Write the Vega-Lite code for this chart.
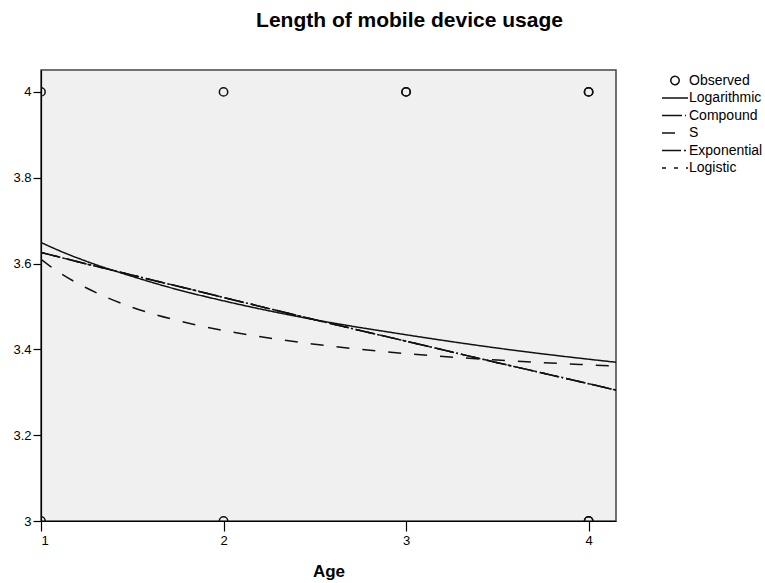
{
  "$schema": "https://vega.github.io/schema/vega-lite/v6.json",
  "width": 575,
  "height": 451,
  "autosize": {"type": "none"},
  "padding": {"left": 41, "top": 70, "right": 149, "bottom": 62},
  "background": "white",
  "title": {
    "text": "Length of mobile device usage",
    "font": "Liberation Sans",
    "fontSize": 21,
    "fontWeight": "bold",
    "color": "black",
    "anchor": "middle",
    "dx": 81,
    "baseline": "alphabetic",
    "offset": 22
  },
  "datasets": {
    "observed": [
      {"series": "Observed", "age": 1, "usage": 4},
      {"series": "Observed", "age": 2, "usage": 4},
      {"series": "Observed", "age": 3, "usage": 4},
      {"series": "Observed", "age": 3, "usage": 4},
      {"series": "Observed", "age": 4, "usage": 4},
      {"series": "Observed", "age": 4, "usage": 4},
      {"series": "Observed", "age": 1, "usage": 3},
      {"series": "Observed", "age": 2, "usage": 3},
      {"series": "Observed", "age": 4, "usage": 3},
      {"series": "Observed", "age": 4, "usage": 3}
    ],
    "fits": [
      {"series": "Logarithmic", "age": 1, "usage": 3.649},
      {"series": "Logarithmic", "age": 1.1, "usage": 3.630},
      {"series": "Logarithmic", "age": 1.25, "usage": 3.605},
      {"series": "Logarithmic", "age": 1.5, "usage": 3.570},
      {"series": "Logarithmic", "age": 1.75, "usage": 3.539},
      {"series": "Logarithmic", "age": 2, "usage": 3.513},
      {"series": "Logarithmic", "age": 2.5, "usage": 3.469},
      {"series": "Logarithmic", "age": 3, "usage": 3.434},
      {"series": "Logarithmic", "age": 3.5, "usage": 3.403},
      {"series": "Logarithmic", "age": 4, "usage": 3.377},
      {"series": "Logarithmic", "age": 4.15, "usage": 3.370},
      {"series": "Compound", "age": 1, "usage": 3.626},
      {"series": "Compound", "age": 1.1, "usage": 3.615},
      {"series": "Compound", "age": 1.25, "usage": 3.599},
      {"series": "Compound", "age": 1.5, "usage": 3.573},
      {"series": "Compound", "age": 1.75, "usage": 3.547},
      {"series": "Compound", "age": 2, "usage": 3.521},
      {"series": "Compound", "age": 2.5, "usage": 3.469},
      {"series": "Compound", "age": 3, "usage": 3.419},
      {"series": "Compound", "age": 3.5, "usage": 3.369},
      {"series": "Compound", "age": 4, "usage": 3.320},
      {"series": "Compound", "age": 4.15, "usage": 3.305},
      {"series": "S", "age": 1, "usage": 3.610},
      {"series": "S", "age": 1.1, "usage": 3.579},
      {"series": "S", "age": 1.25, "usage": 3.543},
      {"series": "S", "age": 1.5, "usage": 3.498},
      {"series": "S", "age": 1.75, "usage": 3.467},
      {"series": "S", "age": 2, "usage": 3.444},
      {"series": "S", "age": 2.5, "usage": 3.412},
      {"series": "S", "age": 3, "usage": 3.390},
      {"series": "S", "age": 3.5, "usage": 3.375},
      {"series": "S", "age": 4, "usage": 3.364},
      {"series": "S", "age": 4.15, "usage": 3.361},
      {"series": "Exponential", "age": 1, "usage": 3.626},
      {"series": "Exponential", "age": 1.1, "usage": 3.615},
      {"series": "Exponential", "age": 1.25, "usage": 3.599},
      {"series": "Exponential", "age": 1.5, "usage": 3.573},
      {"series": "Exponential", "age": 1.75, "usage": 3.547},
      {"series": "Exponential", "age": 2, "usage": 3.521},
      {"series": "Exponential", "age": 2.5, "usage": 3.469},
      {"series": "Exponential", "age": 3, "usage": 3.419},
      {"series": "Exponential", "age": 3.5, "usage": 3.369},
      {"series": "Exponential", "age": 4, "usage": 3.320},
      {"series": "Exponential", "age": 4.15, "usage": 3.305},
      {"series": "Logistic", "age": 1, "usage": 3.626},
      {"series": "Logistic", "age": 1.1, "usage": 3.615},
      {"series": "Logistic", "age": 1.25, "usage": 3.599},
      {"series": "Logistic", "age": 1.5, "usage": 3.573},
      {"series": "Logistic", "age": 1.75, "usage": 3.547},
      {"series": "Logistic", "age": 2, "usage": 3.521},
      {"series": "Logistic", "age": 2.5, "usage": 3.469},
      {"series": "Logistic", "age": 3, "usage": 3.419},
      {"series": "Logistic", "age": 3.5, "usage": 3.369},
      {"series": "Logistic", "age": 4, "usage": 3.320},
      {"series": "Logistic", "age": 4.15, "usage": 3.305}
    ]
  },
  "encoding": {
    "x": {
      "field": "age",
      "type": "quantitative",
      "title": "Age",
      "scale": {"domain": [1, 4.15], "nice": false, "zero": false},
      "axis": {
        "values": [1, 2, 3, 4],
        "format": "~g",
        "grid": false,
        "tickSize": 10,
        "labelPadding": 3,
        "titlePadding": 16
      }
    },
    "y": {
      "field": "usage",
      "type": "quantitative",
      "title": null,
      "scale": {"domain": [3, 4.051], "nice": false, "zero": false},
      "axis": {
        "values": [3, 3.2, 3.4, 3.6, 3.8, 4],
        "format": "~g",
        "grid": false,
        "tickSize": 8,
        "labelPadding": 2
      }
    }
  },
  "layer": [
    {
      "data": {"name": "fits"},
      "mark": {"type": "line", "color": "#111111", "strokeWidth": 1.5, "clip": true, "interpolate": "monotone"},
      "encoding": {
        "detail": {"field": "series"},
        "strokeDash": {
          "field": "series",
          "type": "nominal",
          "title": null,
          "scale": {
            "domain": ["Observed", "Logarithmic", "Compound", "S", "Exponential", "Logistic"],
            "range": [[1, 0], [1, 0], [20, 3, 1, 3], [13, 13], [19, 3, 2, 3], [4, 8]]
          }
        }
      }
    },
    {
      "data": {"name": "observed"},
      "mark": {"type": "point", "filled": false, "color": "#111111", "strokeWidth": 1.5, "opacity": 1, "clip": true},
      "encoding": {
        "shape": {
          "field": "series",
          "type": "nominal",
          "title": null,
          "scale": {
            "domain": ["Observed", "Logarithmic", "Compound", "S", "Exponential", "Logistic"],
            "range": ["circle", "stroke", "stroke", "stroke", "stroke", "stroke"]
          }
        },
        "size": {
          "field": "series",
          "type": "nominal",
          "title": null,
          "scale": {
            "type": "ordinal",
            "domain": ["Observed", "Logarithmic", "Compound", "S", "Exponential", "Logistic"],
            "range": [70, 676, 676, 676, 676, 676]
          }
        }
      }
    }
  ],
  "config": {
    "view": {"fill": "#f0f0f0", "stroke": "#444444", "strokeWidth": 1.5},
    "axis": {
      "labelFont": "Liberation Sans",
      "labelFontSize": 13,
      "labelColor": "black",
      "titleFont": "Liberation Sans",
      "titleFontSize": 17,
      "titleFontWeight": "bold",
      "titleColor": "black",
      "domainColor": "black",
      "tickColor": "black",
      "domainWidth": 1.2,
      "tickWidth": 1.2
    },
    "legend": {
      "orient": "none",
      "legendX": 620,
      "legendY": 2,
      "padding": 0,
      "labelFont": "Liberation Sans",
      "labelFontSize": 14,
      "labelColor": "black",
      "labelOffset": 0,
      "rowPadding": 0.5,
      "clipHeight": 17,
      "symbolStrokeColor": "#111111",
      "symbolStrokeWidth": 1.5,
      "symbolFillColor": "transparent"
    }
  }
}
